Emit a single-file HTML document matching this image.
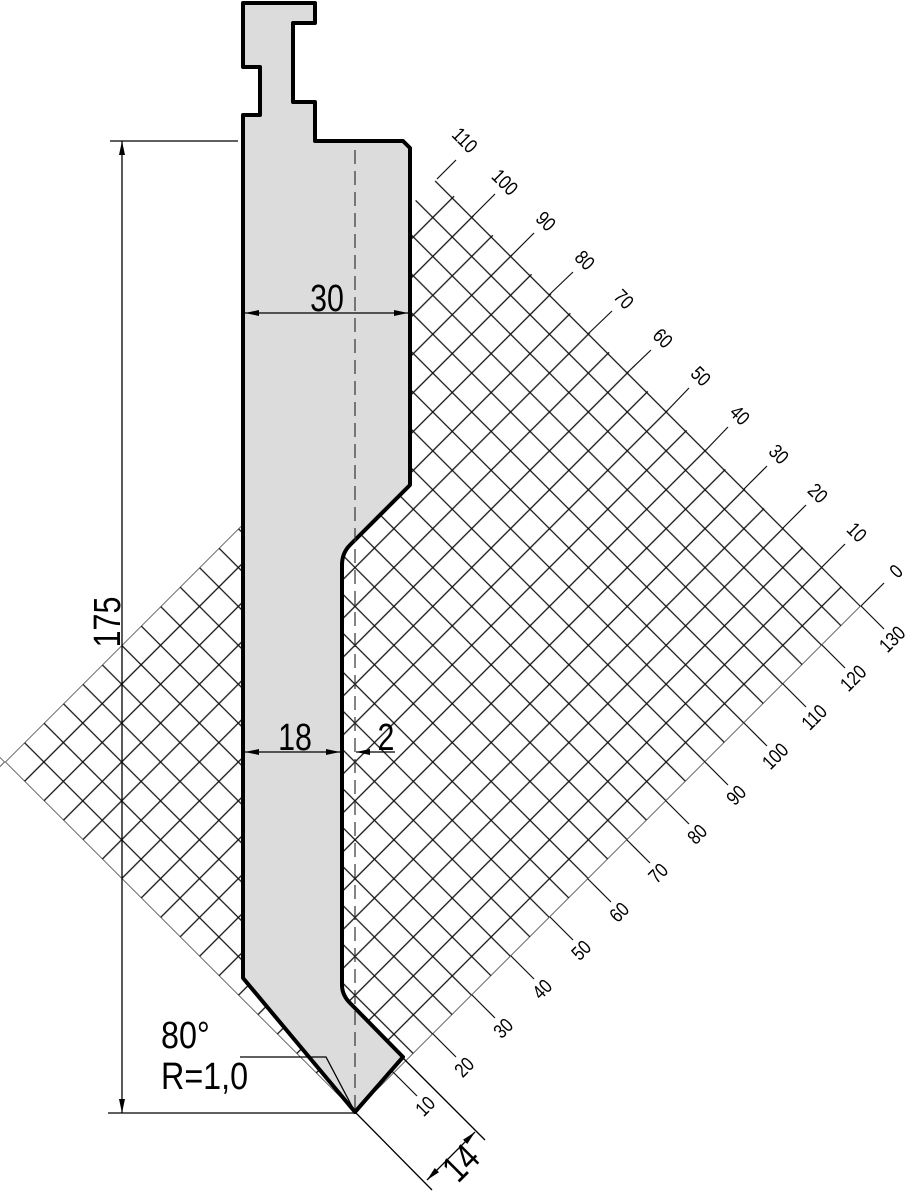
<!DOCTYPE html>
<html><head><meta charset="utf-8"><style>
html,body{margin:0;padding:0;background:#fff;}
svg{display:block;}
text{font-family:"Liberation Sans",sans-serif;fill:#000;}
</style></head><body>
<svg width="917" height="1200" viewBox="0 0 917 1200" xmlns="http://www.w3.org/2000/svg">
<defs>
<pattern id="g" width="27.5" height="27.5" patternUnits="userSpaceOnUse" patternTransform="translate(355,1112) rotate(45)">
<path d="M0 0H27.5M0 0V27.5M0 27.5H27.5M27.5 0V27.5" stroke="#111" stroke-width="1.3" fill="none"/>
</pattern>
<clipPath id="cp"><polygon points="355,1112 861,606 437,179 243,373 243,524 0,767 0,757"/></clipPath>
<marker id="a" viewBox="0 0 14 6" refX="14" refY="3" markerWidth="14" markerHeight="6" orient="auto-start-reverse" markerUnits="userSpaceOnUse"><path d="M0 0L14 3L0 6Z" fill="#000"/></marker>
</defs>
<rect x="0" y="0" width="917" height="1200" fill="url(#g)" clip-path="url(#cp)"/>
<g stroke="#111" stroke-width="1.2">
<line x1="861" y1="606" x2="884" y2="583"/><line x1="822" y1="567" x2="845" y2="544"/>
<line x1="783" y1="528" x2="806" y2="505"/><line x1="744" y1="489" x2="767" y2="466"/>
<line x1="705" y1="451" x2="728" y2="427"/><line x1="666" y1="412" x2="689" y2="388"/>
<line x1="627" y1="373" x2="651" y2="350"/><line x1="588" y1="334" x2="612" y2="311"/>
<line x1="549" y1="295" x2="573" y2="272"/><line x1="511" y1="256" x2="534" y2="233"/>
<line x1="472" y1="217" x2="495" y2="194"/><line x1="437" y1="179" x2="456" y2="160"/>
<line x1="394" y1="1073" x2="417" y2="1096"/><line x1="433" y1="1034" x2="456" y2="1057"/>
<line x1="472" y1="995" x2="495" y2="1018"/><line x1="511" y1="956" x2="534" y2="979"/>
<line x1="550" y1="917" x2="573" y2="940"/><line x1="588" y1="879" x2="611" y2="902"/>
<line x1="627" y1="840" x2="650" y2="863"/><line x1="666" y1="801" x2="689" y2="824"/>
<line x1="705" y1="762" x2="728" y2="785"/><line x1="744" y1="723" x2="767" y2="746"/>
<line x1="783" y1="684" x2="806" y2="707"/><line x1="822" y1="645" x2="845" y2="668"/>
<line x1="861" y1="606" x2="884" y2="629"/>
</g>
<g font-size="20" text-anchor="middle" dominant-baseline="central">
<text transform="translate(896,571) rotate(-45) scale(0.82,1)">0</text>
<text transform="translate(857,532) rotate(45) scale(0.82,1)">10</text>
<text transform="translate(818,493) rotate(45) scale(0.82,1)">20</text>
<text transform="translate(779,454) rotate(45) scale(0.82,1)">30</text>
<text transform="translate(740,415) rotate(45) scale(0.82,1)">40</text>
<text transform="translate(701,376) rotate(45) scale(0.82,1)">50</text>
<text transform="translate(663,338) rotate(45) scale(0.82,1)">60</text>
<text transform="translate(624,299) rotate(45) scale(0.82,1)">70</text>
<text transform="translate(585,260) rotate(45) scale(0.82,1)">80</text>
<text transform="translate(546,221) rotate(45) scale(0.82,1)">90</text>
<text transform="translate(505,182) rotate(45) scale(0.82,1)">100</text>
<text transform="translate(465,140) rotate(45) scale(0.82,1)">110</text>
<text transform="translate(425,1106) rotate(-45) scale(0.82,1)">10</text>
<text transform="translate(464,1067) rotate(-45) scale(0.82,1)">20</text>
<text transform="translate(503,1028) rotate(-45) scale(0.82,1)">30</text>
<text transform="translate(542,989) rotate(-45) scale(0.82,1)">40</text>
<text transform="translate(581,950) rotate(-45) scale(0.82,1)">50</text>
<text transform="translate(619,912) rotate(-45) scale(0.82,1)">60</text>
<text transform="translate(658,873) rotate(-45) scale(0.82,1)">70</text>
<text transform="translate(697,834) rotate(-45) scale(0.82,1)">80</text>
<text transform="translate(736,795) rotate(-45) scale(0.82,1)">90</text>
<text transform="translate(775,756) rotate(-45) scale(0.82,1)">100</text>
<text transform="translate(814,717) rotate(-45) scale(0.82,1)">110</text>
<text transform="translate(853,678) rotate(-45) scale(0.82,1)">120</text>
<text transform="translate(892,639) rotate(-45) scale(0.82,1)">130</text>
</g>
<path d="M243,3 H315 V23 H293 V102 H315 V141 H403 L410,148 V485 L350,545 Q342,553 342,565 V985 Q342,995 350,1003 L403,1057 L355,1112 L243,978 V115 H260 V67 H243 Z" fill="#dcdcdc" stroke="#000" stroke-width="4" stroke-linejoin="round"/>
<line x1="355" y1="150" x2="355" y2="1112" stroke="#333" stroke-width="1.2" stroke-dasharray="14,7"/>
<g stroke="#000" stroke-width="1.3" fill="none">
<line x1="110" y1="141" x2="238" y2="141"/>
<line x1="108" y1="1113" x2="355" y2="1113"/>
<line x1="122" y1="141" x2="122" y2="1113" marker-start="url(#a)" marker-end="url(#a)"/>
<line x1="245" y1="313" x2="408" y2="313" marker-start="url(#a)" marker-end="url(#a)"/>
<line x1="245" y1="752" x2="340" y2="752" marker-start="url(#a)" marker-end="url(#a)"/>
<line x1="395" y1="752" x2="356" y2="752" marker-end="url(#a)"/>
<polyline points="240,1057 326,1057 355,1112"/>
<line x1="355" y1="1112" x2="432" y2="1190"/>
<line x1="403" y1="1058" x2="485" y2="1140"/>
<line x1="427" y1="1180" x2="475" y2="1132" marker-start="url(#a)" marker-end="url(#a)"/>
</g>
<g font-size="38">
<text transform="translate(327,311) scale(0.8,1)" text-anchor="middle">30</text>
<text transform="translate(295,750) scale(0.8,1)" text-anchor="middle">18</text>
<text transform="translate(386,750) scale(0.8,1)" text-anchor="middle">2</text>
<text transform="translate(120,622) rotate(-90) scale(0.8,1)" text-anchor="middle">175</text>
<text transform="translate(161,1048) scale(0.85,1)">80°</text>
<text transform="translate(161,1089) scale(0.85,1)">R=1,0</text>
<text transform="translate(470,1172) rotate(-45) scale(0.8,1)" text-anchor="middle">14</text>
</g>
</svg>
</body></html>
